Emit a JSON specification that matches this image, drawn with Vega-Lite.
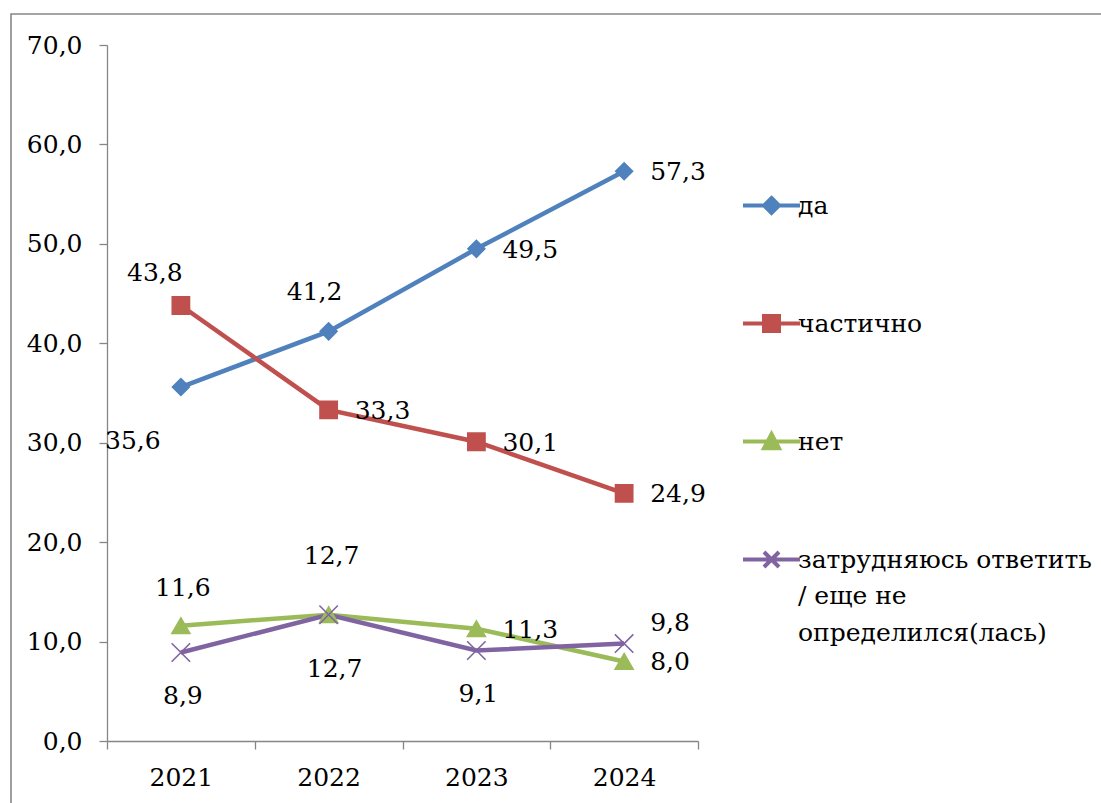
{
  "$schema": "https://vega.github.io/schema/vega-lite/v6.json",
  "autosize": {"type": "none"},
  "padding": {"left": 11, "top": 14, "right": 0, "bottom": 0},
  "width": 1100,
  "height": 800,
  "background": "white",
  "config": {
    "font": "DejaVu Serif",
    "view": {"stroke": "#878787", "strokeWidth": 1.6},
    "locale": {"number": {"decimal": ",", "thousands": "\u00a0", "grouping": [3], "currency": ["", ""]}},
    "text": {"font": "DejaVu Serif"},
    "axis": {
      "labelFont": "DejaVu Serif", "labelFontSize": 25, "labelColor": "#000000",
      "domainColor": "#868686", "tickColor": "#868686", "domainWidth": 1.3, "tickWidth": 1.3,
      "tickSize": 8, "grid": false, "title": null
    },
    "legend": {"labelFont": "DejaVu Serif"}
  },
  "data": {"values": [
    {"year": "2021", "series": "да", "value": 35.6},
    {"year": "2022", "series": "да", "value": 41.2},
    {"year": "2023", "series": "да", "value": 49.5},
    {"year": "2024", "series": "да", "value": 57.3},
    {"year": "2021", "series": "частично", "value": 43.8},
    {"year": "2022", "series": "частично", "value": 33.3},
    {"year": "2023", "series": "частично", "value": 30.1},
    {"year": "2024", "series": "частично", "value": 24.9},
    {"year": "2021", "series": "нет", "value": 11.6},
    {"year": "2022", "series": "нет", "value": 12.7},
    {"year": "2023", "series": "нет", "value": 11.3},
    {"year": "2024", "series": "нет", "value": 8.0},
    {"year": "2021", "series": "затрудняюсь ответить / еще не определился(лась)", "value": 8.9},
    {"year": "2022", "series": "затрудняюсь ответить / еще не определился(лась)", "value": 12.7},
    {"year": "2023", "series": "затрудняюсь ответить / еще не определился(лась)", "value": 9.1},
    {"year": "2024", "series": "затрудняюсь ответить / еще не определился(лась)", "value": 9.8}
  ]},
  "encoding": {
    "x": {"field": "year", "type": "ordinal", "sort": null,
      "scale": {"type": "band", "range": [96, 687], "paddingInner": 0, "paddingOuter": 0},
      "axis": {"orient": "bottom", "offset": -73, "tickBand": "extent", "labelAngle": 0, "labelPadding": 16}},
    "y": {"field": "value", "type": "quantitative",
      "scale": {"domain": [0, 70], "range": [727, 31], "nice": false, "zero": true},
      "axis": {"orient": "left", "offset": -96, "values": [0, 10, 20, 30, 40, 50, 60, 70], "format": ".1f", "labelPadding": 17}}
  },
  "layer": [
    {
      "mark": {"type": "line", "strokeWidth": 4.5},
      "encoding": {
        "stroke": {"field": "series", "type": "nominal",
          "scale": {"domain": ["да", "частично", "нет", "затрудняюсь ответить / еще не определился(лась)"],
                    "range": ["#4F81BD", "#C0504D", "#9BBB59", "#8064A2"]},
          "legend": {
            "title": null, "orient": "none", "legendX": 748, "legendY": 179,
            "padding": 0, "rowPadding": 87, "labelFontSize": 25,
            "labelColor": "#000000", "labelLimit": 600, "labelOffset": 14, "symbolSize": 225,
            "symbolType": "M-3.8,0L3.8,0M0,-1L1,0L0,1L-1,0Z",
            "labelExpr": "datum.label == 'затрудняюсь ответить / еще не определился(лась)' ? ['затрудняюсь ответить', '/ еще не', 'определился(лась)'] : datum.label",
            "encode": {
              "symbols": {"update": {
                "shape": {"signal": "datum.value === 'да' ? 'M-3.8,0L3.8,0M0,-1L1,0L0,1L-1,0Z' : datum.value === 'частично' ? 'M-3.8,0L3.8,0M-1,-1L1,-1L1,1L-1,1Z' : datum.value === 'нет' ? 'M-3.8,0L3.8,0M0,-1L1,0.9L-1,0.9Z' : 'M-3.8,0L3.8,0M-1,-1L1,1M-1,1L1,-1'"},
                "fill": {"signal": "scale('stroke', datum.value)"},
                "stroke": {"signal": "scale('stroke', datum.value)"},
                "strokeWidth": {"value": 4},
                "size": {"value": 225},
                "opacity": {"value": 1}
              }},
              "labels": {"update": {
                "baseline": {"value": "top"},
                "dy": {"value": -12},
                "lineHeight": {"value": 36.5}
              }}
            }
          }
        }
      }
    },
    {
      "transform": [{"filter": "datum.series == 'да'"}],
      "mark": {"type": "point", "shape": "diamond", "size": 290, "strokeWidth": 1.5, "opacity": 1},
      "encoding": {
        "stroke": {"field": "series", "type": "nominal", "legend": null},
        "fill": {"field": "series", "type": "nominal", "legend": null,
          "scale": {"domain": ["да", "частично", "нет", "затрудняюсь ответить / еще не определился(лась)"],
                    "range": ["#4F81BD", "#C0504D", "#9BBB59", "#8064A2"]}}
      }
    },
    {
      "transform": [{"filter": "datum.series == 'частично'"}],
      "mark": {"type": "point", "shape": "square", "size": 300, "strokeWidth": 1.5, "opacity": 1},
      "encoding": {
        "stroke": {"field": "series", "type": "nominal", "legend": null},
        "fill": {"field": "series", "type": "nominal", "legend": null}
      }
    },
    {
      "transform": [{"filter": "datum.series == 'нет'"}],
      "mark": {"type": "point", "shape": "triangle-up", "size": 330, "strokeWidth": 1.5, "opacity": 1},
      "encoding": {
        "stroke": {"field": "series", "type": "nominal", "legend": null},
        "fill": {"field": "series", "type": "nominal", "legend": null}
      }
    },
    {
      "transform": [{"filter": "datum.series == 'затрудняюсь ответить / еще не определился(лась)'"}],
      "mark": {"type": "point", "shape": "M-1,-1L1,1M-1,1L1,-1", "size": 340, "strokeWidth": 1.6, "opacity": 1, "filled": false},
      "encoding": {
        "stroke": {"field": "series", "type": "nominal", "legend": null}
      }
    },
    {
      "transform": [{"filter": "((datum.year == '2023' || datum.year == '2024') && datum.series != 'затрудняюсь ответить / еще не определился(лась)') || (datum.series == 'частично' && datum.year == '2022')"}],
      "mark": {"type": "text", "align": "left", "baseline": "middle", "dx": 26, "dy": 1, "fontSize": 25, "color": "#000000"},
      "encoding": {"text": {"field": "value", "type": "quantitative", "format": ".1f"}}
    },
    {
      "transform": [{"filter": "datum.series == 'затрудняюсь ответить / еще не определился(лась)' && datum.year == '2024'"}],
      "mark": {"type": "text", "align": "left", "baseline": "middle", "dx": 26, "dy": -21, "fontSize": 25, "color": "#000000"},
      "encoding": {"text": {"field": "value", "type": "quantitative", "format": ".1f"}}
    },
    {
      "transform": [{"filter": "datum.series == 'нет' && datum.year == '2021'"}],
      "mark": {"type": "text", "align": "center", "baseline": "middle", "dx": 2, "dy": -38, "fontSize": 25, "color": "#000000"},
      "encoding": {"text": {"field": "value", "type": "quantitative", "format": ".1f"}}
    },
    {
      "transform": [{"filter": "datum.series == 'нет' && datum.year == '2022'"}],
      "mark": {"type": "text", "align": "center", "baseline": "middle", "dx": 3, "dy": -59, "fontSize": 25, "color": "#000000"},
      "encoding": {"text": {"field": "value", "type": "quantitative", "format": ".1f"}}
    },
    {
      "transform": [{"filter": "datum.series == 'да' && datum.year == '2022'"}],
      "mark": {"type": "text", "align": "center", "baseline": "middle", "dx": -14, "dy": -39, "fontSize": 25, "color": "#000000"},
      "encoding": {"text": {"field": "value", "type": "quantitative", "format": ".1f"}}
    },
    {
      "transform": [{"filter": "datum.series == 'частично' && datum.year == '2021'"}],
      "mark": {"type": "text", "align": "center", "baseline": "middle", "dx": -26, "dy": -33, "fontSize": 25, "color": "#000000"},
      "encoding": {"text": {"field": "value", "type": "quantitative", "format": ".1f"}}
    },
    {
      "transform": [{"filter": "datum.series == 'да' && datum.year == '2021'"}],
      "mark": {"type": "text", "align": "center", "baseline": "middle", "dx": -48, "dy": 54, "fontSize": 25, "color": "#000000"},
      "encoding": {"text": {"field": "value", "type": "quantitative", "format": ".1f"}}
    },
    {
      "transform": [{"filter": "datum.series == 'затрудняюсь ответить / еще не определился(лась)' && (datum.year == '2021' || datum.year == '2023')"}],
      "mark": {"type": "text", "align": "center", "baseline": "middle", "dx": 2, "dy": 43, "fontSize": 25, "color": "#000000"},
      "encoding": {"text": {"field": "value", "type": "quantitative", "format": ".1f"}}
    },
    {
      "transform": [{"filter": "datum.series == 'затрудняюсь ответить / еще не определился(лась)' && datum.year == '2022'"}],
      "mark": {"type": "text", "align": "center", "baseline": "middle", "dx": 6, "dy": 54, "fontSize": 25, "color": "#000000"},
      "encoding": {"text": {"field": "value", "type": "quantitative", "format": ".1f"}}
    }
  ]
}
